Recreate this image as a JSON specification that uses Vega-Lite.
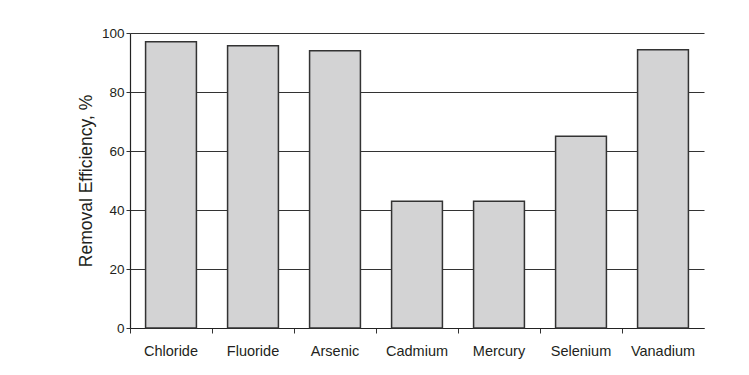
{
  "$schema": "https://vega.github.io/schema/vega-lite/v6.json",
  "width": 574,
  "height": 295,
  "autosize": {"type": "none"},
  "padding": {"left": 130, "top": 33, "right": 45, "bottom": 47},
  "background": "white",
  "config": {"view": {"stroke": null}, "font": "Liberation Sans"},
  "data": {
    "values": [
      {"element": "Chloride", "efficiency": 97},
      {"element": "Fluoride", "efficiency": 95.7},
      {"element": "Arsenic", "efficiency": 94},
      {"element": "Cadmium", "efficiency": 43},
      {"element": "Mercury", "efficiency": 43},
      {"element": "Selenium", "efficiency": 65},
      {"element": "Vanadium", "efficiency": 94.3}
    ]
  },
  "mark": {"type": "bar", "fill": "#d3d3d4", "stroke": "#333333", "strokeWidth": 1.5},
  "encoding": {
    "x": {
      "field": "element",
      "type": "nominal",
      "sort": null,
      "scale": {"paddingInner": 0.38, "paddingOuter": 0.19},
      "axis": {
        "title": null,
        "labelAngle": 0,
        "labelFontSize": 14.5,
        "labelColor": "#231f20",
        "labelPadding": 11,
        "bandPosition": -0.304,
        "ticks": true,
        "tickSize": 5,
        "tickColor": "#333333",
        "domainColor": "#222222",
        "domainWidth": 1.2,
        "grid": false
      }
    },
    "y": {
      "field": "efficiency",
      "type": "quantitative",
      "scale": {"domain": [0, 100], "nice": false},
      "axis": {
        "title": "Removal Efficiency, %",
        "titleFontSize": 17.5,
        "titleFontWeight": "normal",
        "titleColor": "#231f20",
        "titlePadding": 6,
        "values": [0, 20, 40, 60, 80, 100],
        "labelFontSize": 13.5,
        "labelColor": "#231f20",
        "labelPadding": 2,
        "tickSize": 4,
        "tickColor": "#333333",
        "domainColor": "#222222",
        "domainWidth": 1.2,
        "grid": true,
        "gridColor": "#333333",
        "gridWidth": 1.2,
        "gridOpacity": 1
      }
    }
  }
}
